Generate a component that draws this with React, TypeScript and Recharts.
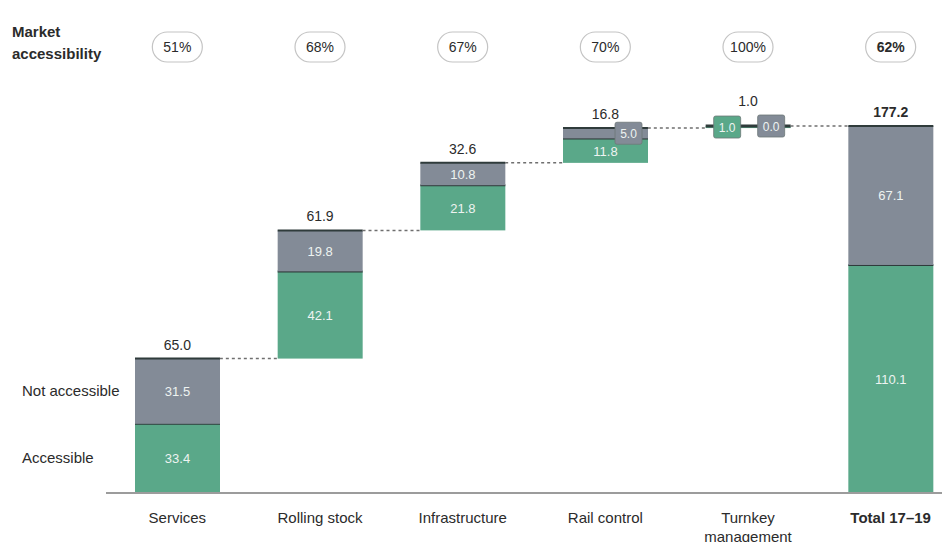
import { ComposedChart, Bar, Scatter, XAxis, YAxis } from 'recharts'

const CATEGORIES = ['Services', 'Rolling stock', 'Infrastructure', 'Rail control', 'Turnkey\nmanagement', 'Total 17–19']
const ACCESSIBLE = [33.4, 42.1, 21.8, 11.8, 1.0, 110.1]
const NOT_ACCESSIBLE = [31.5, 19.8, 10.8, 5.0, 0.0, 67.1]
const TOTAL_LABELS = ['65.0', '61.9', '32.6', '16.8', '1.0', '177.2']
const ACCESSIBILITY = ['51%', '68%', '67%', '70%', '100%', '62%']

const GREEN = '#5aa889'
const GRAY = '#838b97'
const DARK = '#2f3b3b'
const TEXT = '#2b2b2b'
const FONT = '"Liberation Sans", Arial, sans-serif'

const CHART_W = 962
const CHART_H = 550
const MARGIN = { top: 126, right: 0, left: 106, bottom: 0 }
const BAR = 85
const BAND = (CHART_W - MARGIN.left - MARGIN.right) / CATEGORIES.length

// waterfall: each step starts where the previous one ended, total starts at 0
let running = 0
const data = CATEGORIES.map((name, i) => {
  const isTotal = i === CATEGORIES.length - 1
  const base = isTotal ? 0 : running
  const acc = ACCESSIBLE[i]
  const notAcc = NOT_ACCESSIBLE[i]
  if (!isTotal) running += acc + notAcc
  return {
    name,
    base,
    acc,
    notAcc,
    top: +(base + acc + notAcc).toFixed(1),
    label: TOTAL_LABELS[i],
    pct: ACCESSIBILITY[i],
    isTotal,
  }
})

const makeSegment = (fill: string, key: 'acc' | 'notAcc', legend: string) => (props: any) => {
  const { x, y, width, height, index, payload } = props
  const value: number = payload[key]
  const h = Math.max(height || 0, 0)
  const cx = x + width / 2
  const cy = y + h / 2
  const thin = h < 14
  const boxX = key === 'acc' ? cx - 21 : cx + 23
  return (
    <g>
      {h > 0 && <rect x={x} y={y} width={width} height={h} fill={fill} />}
      {h > 0 && <line x1={x} x2={x + width} y1={y} y2={y} stroke={DARK} strokeWidth={h < 4 ? 3 : 2} />}
      {thin ? (
        <g>
          <rect x={boxX - 13.5} y={cy - 11} width={27} height={22} rx={2} fill={fill} stroke="#6d7777" strokeWidth={0.8} />
          <text x={boxX} y={cy + 4.5} textAnchor="middle" fontSize={12} fill="#eef3f1" fontFamily={FONT}>
            {value.toFixed(1)}
          </text>
        </g>
      ) : (
        <text x={cx} y={cy + 5} textAnchor="middle" fontSize={13} fill="#eef3f1" fontFamily={FONT}>
          {value.toFixed(1)}
        </text>
      )}
      {index === 0 && (
        <text x={22} y={cy + 5} fontSize={15} fill={TEXT} fontFamily={FONT}>
          {legend}
        </text>
      )}
    </g>
  )
}

const TopMarker = (props: any) => {
  const { cx, cy, payload } = props
  const small = payload.acc + payload.notAcc < 3
  return (
    <g fontFamily={FONT}>
      {!payload.isTotal && (
        <line
          x1={cx + BAR / 2}
          x2={cx + BAND - BAR / 2}
          y1={cy}
          y2={cy}
          stroke="#6f6f6f"
          strokeWidth={1.5}
          strokeDasharray="3 3"
        />
      )}
      <text
        x={cx}
        y={small ? cy - 20 : cy - 9}
        textAnchor="middle"
        fontSize={14}
        fontWeight={payload.isTotal ? 700 : 400}
        fill={TEXT}
      >
        {payload.label}
      </text>
      <rect x={cx - 25} y={32} width={50} height={30} rx={15} fill="#fff" stroke="#c4c4c4" strokeWidth={1.2} />
      <text x={cx} y={52} textAnchor="middle" fontSize={14} fontWeight={payload.isTotal ? 700 : 400} fill={TEXT}>
        {payload.pct}
      </text>
    </g>
  )
}

const CategoryTick = (props: any) => {
  const { x, y, payload, index } = props
  const lines = String(payload.value).split('\n')
  const bold = index === CATEGORIES.length - 1
  return (
    <text
      x={x}
      y={y + 22}
      textAnchor="middle"
      fontSize={15}
      fontWeight={bold ? 700 : 400}
      fill={TEXT}
      fontFamily={FONT}
    >
      {lines.map((line, i) => (
        <tspan key={line} x={x} dy={i === 0 ? 0 : 19}>
          {line}
        </tspan>
      ))}
    </text>
  )
}

export default function App() {
  return (
    <div style={{ position: 'relative', width: 950, height: 550, margin: -8, overflow: 'hidden', background: '#fff' }}>
      <div
        style={{
          position: 'absolute',
          left: 12,
          top: 21,
          fontFamily: FONT,
          fontWeight: 700,
          fontSize: 15,
          lineHeight: '22px',
          color: TEXT,
        }}
      >
        Market
        <br />
        accessibility
      </div>
      <ComposedChart width={CHART_W} height={CHART_H} data={data} margin={MARGIN} barSize={BAR}>
        <XAxis
          dataKey="name"
          height={57}
          tickLine={false}
          axisLine={{ stroke: '#9c9c9c', strokeWidth: 2 }}
          tick={<CategoryTick />}
          interval={0}
        />
        <YAxis hide domain={[0, 'dataMax']} />
        <Bar dataKey="base" stackId="w" fill="transparent" isAnimationActive={false} />
        <Bar
          dataKey="acc"
          stackId="w"
          fill={GREEN}
          shape={makeSegment(GREEN, 'acc', 'Accessible')}
          isAnimationActive={false}
        />
        <Bar
          dataKey="notAcc"
          stackId="w"
          fill={GRAY}
          shape={makeSegment(GRAY, 'notAcc', 'Not accessible')}
          isAnimationActive={false}
        />
        <Scatter dataKey="top" shape={<TopMarker />} isAnimationActive={false} />
      </ComposedChart>
    </div>
  )
}
